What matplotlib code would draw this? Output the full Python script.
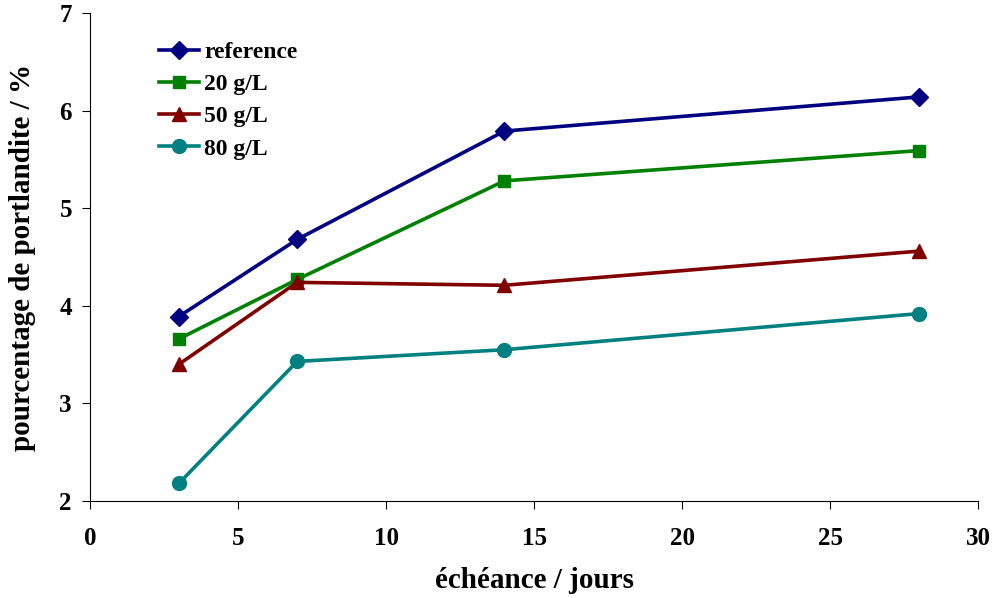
import matplotlib.pyplot as plt

# Données
echeance = [3, 7, 14, 28]
reference = [3.89, 4.68, 5.79, 6.14]
c20 = [3.66, 4.27, 5.28, 5.59]
c50 = [3.40, 4.24, 4.21, 4.56]
c80 = [2.18, 3.43, 3.55, 3.92]

plt.rcParams['font.family'] = ['Liberation Serif', 'DejaVu Serif']
plt.rcParams['font.weight'] = 'bold'

fig = plt.figure(figsize=(9.92, 5.98), dpi=100)
ax = fig.add_axes([0.0907, 0.1622, 0.8953, 0.8161])

ax.plot(echeance, reference, marker='D', color='#000080', lw=2.6, ms=9, label='reference')
ax.plot(echeance, c20, marker='s', color='#008000', lw=2.6, ms=8, label='20 g/L')
ax.plot(echeance, c50, marker='^', color='#800000', lw=2.6, ms=10, label='50 g/L')
ax.plot(echeance, c80, marker='o', color='#008080', lw=2.6, ms=10, label='80 g/L')

ax.set_xlim(0, 30)
ax.set_ylim(2, 7)
ax.set_xticks(range(0, 31, 5))
ax.set_yticks(range(2, 8))
ax.spines['top'].set_visible(False)
ax.spines['right'].set_visible(False)
ax.tick_params(direction='out', length=6, labelsize=18)
ax.tick_params(axis='x', pad=13)
ax.tick_params(axis='y', pad=7)
for lab in ax.get_xticklabels() + ax.get_yticklabels():
    lab.set_fontweight('bold')

ax.set_xlabel('échéance / jours', fontsize=21, fontweight='bold', labelpad=12)
ax.set_ylabel('pourcentage de portlandite / %', fontsize=21, fontweight='bold', labelpad=17)

ax.legend(loc='upper left', bbox_to_anchor=(0.054, 0.985), frameon=False,
          prop={'size': 17, 'weight': 'bold'}, handlelength=1.7,
          handletextpad=0.2, labelspacing=0.45)

plt.savefig('out.png', dpi=100)
